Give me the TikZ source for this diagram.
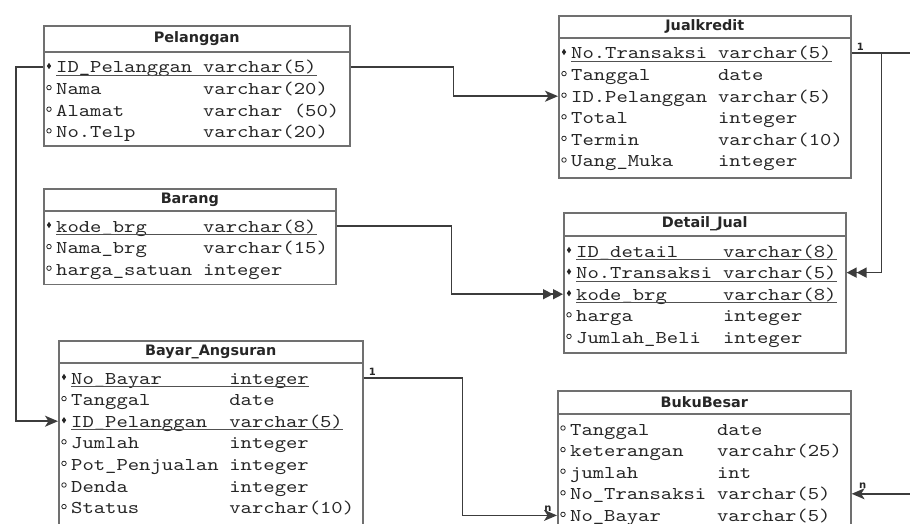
\documentclass[tikz,border=0pt]{standalone}
\usepackage{fontspec}
\setmainfont{DejaVu Sans}
\newfontfamily\erfont{lmmono10-regular.otf}[FakeStretch=1.2]
\usetikzlibrary{calc,arrows.meta,shapes.geometric}

\definecolor{boxgray}{HTML}{707070}
\definecolor{ink}{HTML}{262626}

\def\pkey{pk}
% name, x, y, width, height, header height, type column (chars), title, rows
\newcommand{\ertable}[9]{%
  \node[tbl,minimum width=#4pt,minimum height=#5pt] (#1) at (#2,#3) {};
  \draw[tbl] ($(#1.north west)+(0,#6)$) -- ($(#1.north east)+(0,#6)$);
  \node[ttl] (#1-title) at ($(#1.north)+(0,#6/2)$) {#8};
  \foreach \kind/\fname/\ftype [count=\i] in {#9} {
    \coordinate (#1-\i) at ($(#1.north west)+(0,#6+15+\i*21.6-21.6)$);
    \node[fld] (#1-\i-name) at ($(#1-\i)+(13,6)$) {\fname};
    \node[fld] (#1-\i-type) at ($(#1-\i-name.base west)+(#7*11.3,0)$) {\ftype};
    \edef\kk{\kind}
    \ifx\kk\pkey
      \node[pkmark] at ($(#1-\i)+(6,-1)$) {};
      \draw[keyline] ($(#1-\i-name.base west)+(0,2.5)$) -- ($(#1-\i-type.base east)+(0,2.5)$);
    \else
      \node[atmark] at ($(#1-\i)+(6,-1)$) {};
    \fi
  }%
}

\begin{document}
\begin{tikzpicture}[x=1pt,y=-1pt,
    tbl/.style={draw=boxgray,line width=1.6pt,anchor=north west,inner sep=0pt},
    ttl/.style={font=\fontsize{14.4}{16}\selectfont\bfseries,text=ink,inner sep=0pt},
    fld/.style={font=\erfont\fontsize{18}{20}\selectfont,text=ink,anchor=base west,inner sep=0pt},
    keyline/.style={draw=ink!80,line width=1pt},
    pkmark/.style={diamond,fill=ink,inner sep=0pt,minimum width=4.5pt,minimum height=6.5pt},
    atmark/.style={circle,draw=ink,line width=0.8pt,inner sep=0pt,minimum size=4.5pt},
    fk/.style={draw=ink!90,line width=1.5pt},
    one/.style={-{Stealth[length=13pt,width=11pt,inset=3.5pt]}},
    many/.style={-{Triangle[length=10pt,width=10pt]Triangle[length=10pt,width=10pt]}},
    card/.style={font=\fontsize{10}{11}\selectfont\bfseries,text=ink,inner sep=0pt}]
  \useasboundingbox (0,0) rectangle (910,524);

  \ertable{pel}{43}{25}{306}{120}{27}{13}{Pelanggan}{pk/ID\_Pelanggan/varchar(5),
    at/Nama/varchar(20), at/Alamat/varchar (50), at/No.Telp/varchar(20)}
  \ertable{jual}{558}{15}{292}{162}{23}{13}{Jualkredit}{pk/No.Transaksi/varchar(5),
    at/Tanggal/date, at/ID.Pelanggan/varchar(5), at/Total/integer,
    at/Termin/varchar(10), at/Uang\_Muka/integer}
  \ertable{brg}{43}{188}{292}{95.5}{23}{13}{Barang}{pk/kode\_brg/varchar(8),
    at/Nama\_brg/varchar(15), at/harga\_satuan/integer}
  \ertable{dj}{563}{212}{282}{140}{24}{13}{Detail\_Jual}{pk/ID\_detail/varchar(8),
    pk/No.Transaksi/varchar(5), pk/kode\_brg/varchar(8), at/harga/integer,
    at/Jumlah\_Beli/integer}
  \ertable{ba}{58}{340}{304}{183.5}{23}{14}{Bayar\_Angsuran}{pk/No\_Bayar/integer,
    at/Tanggal/date, pk/ID\_Pelanggan/varchar(5), at/Jumlah/integer,
    at/Pot\_Penjualan/integer, at/Denda/integer, at/Status/varchar(10)}
  \ertable{bb}{557}{390}{293}{150}{24}{13}{BukuBesar}{at/Tanggal/date,
    at/keterangan/varcahr(25), at/jumlah/int, at/No\_Transaksi/varchar(5),
    at/No\_Bayar/varchar(5)}

  % relations
  \coordinate (offright) at (915,0);
  \draw[fk,one] (pel-1 -| pel.east) -- ++(103,0) |- (jual-3 -| jual.west);
  \draw[fk,one] (pel-1 -| pel.west) -- ++(-27,0) |- (ba-3 -| ba.west);
  \draw[fk] (jual-1 -| jual.east) -- (jual-1 -| offright);
  \draw[fk,many] ($(jual-1 -| jual.east)+(30,0)$) |- (dj-2 -| dj.east);
  \draw[fk,many] (brg-1 -| brg.east) -- ++(115,0) |- (dj-3 -| dj.west);
  \draw[fk,one] (ba-1 -| ba.east) -- ++(99,0) |- (bb-5 -| bb.west);
  \draw[fk,one] (bb-4 -| offright) -- (bb-4 -| bb.east);

  \node[card,anchor=south west] (jual-one) at ($(jual-1 -| jual.east)+(5,-2)$) {1};
  \node[card,anchor=south west] (ba-one) at ($(ba-1 -| ba.east)+(5,-2)$) {1};
  \node[card] (bb-n5) at ($(bb-5 -| bb.west)+(-9,-7)$) {n};
  \node[card] (bb-n4) at ($(bb-4 -| bb.east)+(11,-8)$) {n};
\end{tikzpicture}
\end{document}
